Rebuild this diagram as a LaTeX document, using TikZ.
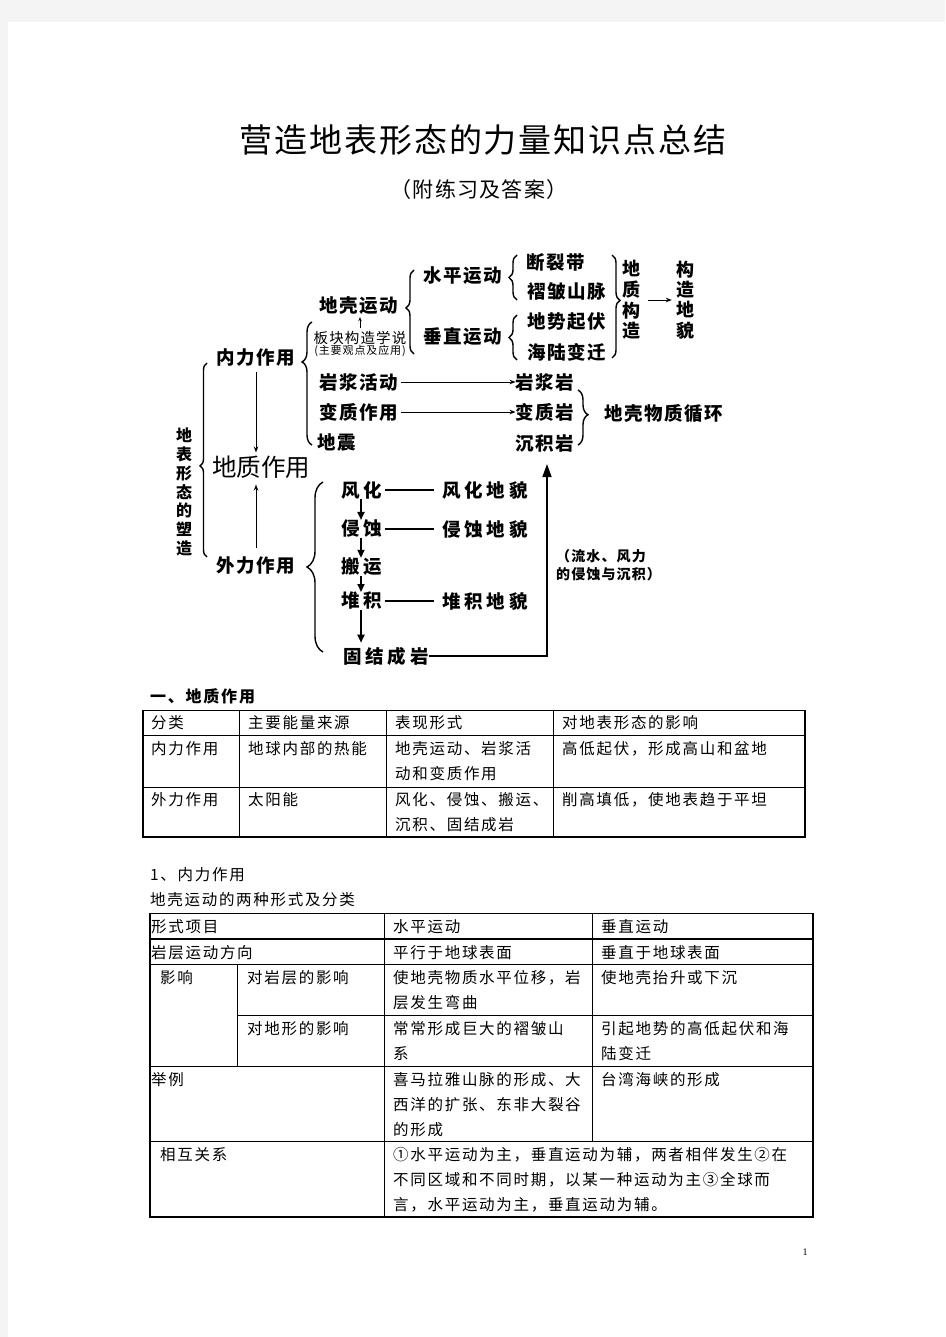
\documentclass[tikz,border=0pt]{standalone}
\usepackage{fontspec}
\setmainfont{Noto Sans CJK SC}
\newfontfamily\tbfont[LetterSpace=11]{Noto Sans CJK SC}
\newfontfamily\dgfont[LetterSpace=8]{Noto Sans CJK SC}
\newfontfamily\dgwide[LetterSpace=20]{Noto Sans CJK SC}
\newfontfamily\ttlfont[LetterSpace=6]{Noto Sans CJK SC}
\newfontfamily\pgfont{Liberation Serif}
\usetikzlibrary{arrows.meta,decorations.pathreplacing,positioning}
\definecolor{pagebg}{HTML}{F4F4F4}
\newcommand\cstrut{\rule{0pt}{14pt}}
\tikzset{
  cell/.style={anchor=north west, inner sep=0pt, align=left,
    font=\tbfont\fontsize{15.5}{25}\selectfont},
  dgt/.style={inner sep=0pt, font=\dgfont\bfseries\fontsize{18.5}{21}\selectfont},
  dgw/.style={inner sep=0pt, font=\dgwide\bfseries\fontsize{18.5}{21}\selectfont},
  vtxt/.style={inner sep=0pt, align=center},
  brl/.style 2 args={decorate, decoration={brace, amplitude=#1, aspect=#2}, line width=1.4pt},
  thinarrow/.style={-{Stealth[length=6pt,width=4.5pt]}, line width=0.9pt},
  fatarrow/.style={-{Triangle[length=8pt,width=7pt]}, line width=1.8pt},
  tline/.style={line width=0.9pt},
}
\begin{document}
\begin{tikzpicture}[x=1pt,y=-1pt]
  \fill[pagebg] (0,0) rectangle (945,1337);
  \fill[white] (8,22) rectangle (945,1337);
  \path[use as bounding box] (0,0) rectangle (945,1337);

  \node[font=\ttlfont\fontsize{33}{36}\selectfont] (title) at (483,140) {营造地表形态的力量知识点总结};
  \node[font=\ttlfont\fontsize{21}{24}\selectfont] (subtitle) at (479,190) {（附练习及答案）};

  % diagram
  \node[vtxt, font=\bfseries\fontsize{16}{18.8}\selectfont] (shape) at (184,492) {地\\表\\形\\态\\的\\塑\\造};
  \node[dgt] (inner) at (256,358) {内力作用};
  \node[inner sep=0pt, font=\fontsize{24.5}{26}\selectfont] (geo) at (261,467) {地质作用};
  \node[dgt] (outer) at (256,566) {外力作用};

  \node[dgt] (crust) at (359,306) {地壳运动};
  \node[inner sep=0pt, font=\dgfont\fontsize{14.5}{16}\selectfont] (plate) at (360,338) {板块构造学说};
  \node[inner sep=0pt, font=\dgfont\fontsize{11}{12}\selectfont] (platenote) at (360,351) {(主要观点及应用)};
  \node[dgt] (magma) at (359,382) {岩浆活动};
  \node[dgt] (meta) at (359,412) {变质作用};
  \node[dgt] (quake) at (337,443) {地震};

  \node[dgt] (horiz) at (463,276) {水平运动};
  \node[dgt] (vert) at (463,337) {垂直运动};
  \node[dgt] (fault) at (556,262) {断裂带};
  \node[dgt] (fold) at (567,292) {褶皱山脉};
  \node[dgt] (relief) at (567,322) {地势起伏};
  \node[dgt] (sealand) at (567,352) {海陆变迁};
  \node[vtxt, font=\bfseries\fontsize{18}{20.7}\selectfont] (gstruct) at (631,300) {地\\质\\构\\造};
  \node[vtxt, font=\bfseries\fontsize{18}{20.3}\selectfont] (lform) at (685,300) {构\\造\\地\\貌};

  \node[dgt] (igneous) at (545,382) {岩浆岩};
  \node[dgt] (metarock) at (545,412) {变质岩};
  \node[dgt] (sedi) at (545,443) {沉积岩};
  \node[dgt] (cycle) at (664,414) {地壳物质循环};

  \node[dgw] (weather) at (362,490) {风化};
  \node[dgw] (wland) at (485,490) {风化地貌};
  \node[dgw] (erode) at (362,529) {侵蚀};
  \node[dgw] (eland) at (485,529) {侵蚀地貌};
  \node[dgw] (carry) at (362,567) {搬运};
  \node[dgw] (depo) at (362,601) {堆积};
  \node[dgw] (dland) at (485,601) {堆积地貌};
  \node[dgw] (consol) at (386,656) {固结成岩};
  \node[anchor=north west, inner sep=0pt, align=left, font=\dgfont\bfseries\fontsize{14}{18}\selectfont] (note) at (556,549) {（流水、风力\\的侵蚀与沉积）};

  \draw[brl={7pt}{0.47}] (207,557) -- (207,363);
  \draw[brl={10pt}{0.675}] (312,445) -- (312,322);
  \draw[brl={8pt}{0.55}] (414,354) -- (414,270);
  \draw[brl={8pt}{0.5}] (517,300) -- (517,255);
  \draw[brl={8pt}{0.5}] (517,360) -- (517,315);
  \draw[brl={8pt}{0.44}] (612,255) -- (612,358);
  \draw[brl={10pt}{0.45}] (578,390) -- (578,445);
  \draw[brl={16pt}{0.5}] (323,652) -- (323,482);

  \draw[thinarrow, shorten <=5pt, shorten >=3pt] (inner.south) -- (inner.south |- geo.north);
  \draw[thinarrow, shorten <=9pt, shorten >=6pt] (outer.north) -- (outer.north |- geo.south);
  \draw[-{Stealth[length=4pt,width=3.5pt]}, line width=0.8pt, shorten <=3pt, shorten >=2pt] (plate.north) -- (plate.north |- crust.south);
  \draw[thinarrow, shorten <=3pt] (magma.east) -- (igneous.west);
  \draw[thinarrow, shorten <=3pt] (meta.east) -- (metarock.west);
  \draw[thinarrow, shorten <=8pt, shorten >=4pt] (gstruct.east) -- (lform.west);

  \draw[line width=1.8pt, shorten <=2pt, shorten >=8pt] (weather.east) -- (wland.west);
  \draw[line width=1.8pt, shorten <=2pt, shorten >=8pt] (erode.east) -- (eland.west);
  \draw[line width=1.8pt, shorten <=2pt, shorten >=8pt] (depo.east) -- (dland.west);
  \draw[fatarrow] ([xshift=-1pt]weather.south) -- ([xshift=-1pt]erode.north);
  \draw[fatarrow] ([xshift=-1pt]erode.south) -- ([xshift=-1pt]carry.north);
  \draw[fatarrow] ([xshift=-1pt]carry.south) -- ([xshift=-1pt]depo.north);
  \draw[fatarrow, shorten >=4pt] ([xshift=-1pt]depo.south) -- ([xshift=-1pt]depo.south |- consol.north);
  \draw[-{Triangle[length=13pt,width=9pt]}, line width=1.6pt, shorten >=12pt] (consol.east) -| ([xshift=2pt]sedi.south);

  % table 1
  \node[anchor=west, inner sep=0pt, font=\tbfont\bfseries\fontsize{16}{18}\selectfont] (sec1) at (150,696) {一、地质作用};
  \draw[tline] (143,710) -- (805,710) (143,735) -- (805,735) (143,787) -- (805,787)
    (239,710) -- (239,837) (386,710) -- (386,837) (553,710) -- (553,837);
  \draw[line width=1.6pt] (143,710) -- (143,837) (805,710) -- (805,837);
  \draw[line width=2.2pt] (142,837) -- (806,837);
  \node[cell] (t1a) at (151,714) {\cstrut 分类};
  \node[cell] (t1b) at (248,714) {\cstrut 主要能量来源};
  \node[cell] (t1c) at (395,714) {\cstrut 表现形式};
  \node[cell] (t1d) at (562,714) {\cstrut 对地表形态的影响};
  \node[cell] (t1e) at (151,740) {\cstrut 内力作用};
  \node[cell] (t1f) at (248,740) {\cstrut 地球内部的热能};
  \node[cell] (t1g) at (395,740) {\cstrut 地壳运动、岩浆活\\动和变质作用};
  \node[cell] (t1h) at (562,740) {\cstrut 高低起伏，形成高山和盆地};
  \node[cell] (t1i) at (151,791) {\cstrut 外力作用};
  \node[cell] (t1j) at (248,791) {\cstrut 太阳能};
  \node[cell] (t1k) at (395,791) {\cstrut 风化、侵蚀、搬运、\\沉积、固结成岩};
  \node[cell] (t1l) at (562,791) {\cstrut 削高填低，使地表趋于平坦};

  % table 2
  \node[anchor=west, inner sep=0pt, font=\tbfont\fontsize{15.5}{18}\selectfont] (sub1) at (150,875) {1、内力作用};
  \node[anchor=west, inner sep=0pt, font=\tbfont\fontsize{15.5}{18}\selectfont] (sub2) at (150,900) {地壳运动的两种形式及分类};
  \draw[tline] (150,913) -- (813,913) (150,964) -- (813,964) (237,1015) -- (813,1015)
    (150,1066) -- (813,1066) (150,1141) -- (813,1141)
    (237,964) -- (237,1066) (384,913) -- (384,1217) (592,913) -- (592,1141);
  \draw[line width=1.8pt] (150,939) -- (813,939);
  \draw[line width=1.6pt] (150,913) -- (150,1217) (813,913) -- (813,1217);
  \draw[line width=2.2pt] (149,1217) -- (814,1217);
  \node[cell] (t2a) at (151,918) {\cstrut 形式项目};
  \node[cell] (t2b) at (393,918) {\cstrut 水平运动};
  \node[cell] (t2c) at (601,918) {\cstrut 垂直运动};
  \node[cell] (t2d) at (151,944) {\cstrut 岩层运动方向};
  \node[cell] (t2e) at (393,944) {\cstrut 平行于地球表面};
  \node[cell] (t2f) at (601,944) {\cstrut 垂直于地球表面};
  \node[cell] (t2g) at (160,969) {\cstrut 影响};
  \node[cell] (t2h) at (247,969) {\cstrut 对岩层的影响};
  \node[cell] (t2i) at (393,969) {\cstrut 使地壳物质水平位移，岩\\层发生弯曲};
  \node[cell] (t2j) at (601,969) {\cstrut 使地壳抬升或下沉};
  \node[cell] (t2k) at (247,1020) {\cstrut 对地形的影响};
  \node[cell] (t2l) at (393,1020) {\cstrut 常常形成巨大的褶皱山\\系};
  \node[cell] (t2m) at (601,1020) {\cstrut 引起地势的高低起伏和海\\陆变迁};
  \node[cell] (t2n) at (151,1071) {\cstrut 举例};
  \node[cell] (t2o) at (393,1071) {\cstrut 喜马拉雅山脉的形成、大\\西洋的扩张、东非大裂谷\\的形成};
  \node[cell] (t2p) at (601,1071) {\cstrut 台湾海峡的形成};
  \node[cell] (t2q) at (160,1146) {\cstrut 相互关系};
  \node[cell] (t2r) at (393,1146) {\cstrut ①水平运动为主，垂直运动为辅，两者相伴发生②在\\不同区域和不同时期，以某一种运动为主③全球而\\言，水平运动为主，垂直运动为辅。};

  \node[font=\pgfont\fontsize{10}{12}\selectfont] (pnum) at (805,1252) {1};
\end{tikzpicture}
\end{document}
